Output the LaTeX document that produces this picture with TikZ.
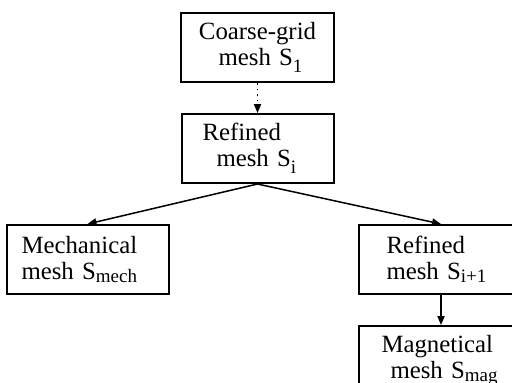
\documentclass[tikz,border=0pt]{standalone}
\usepackage{fontspec}
\setmainfont{Liberation Serif}
\usepackage{tikz}
\usetikzlibrary{arrows.meta, positioning}
\newcommand{\meshsub}[2][-1.5pt]{\raisebox{#1}{\fontsize{9.5}{10}\selectfont #2}}
\tikzset{
  meshbox/.style={rectangle, draw=black, line width=1pt, minimum height=34.5pt, inner ysep=0pt, font=\fontsize{12.4}{13}\selectfont},
  arrow/.style={-{Triangle[length=4.5pt, width=3.6pt]}, line width=0.75pt},
}
\begin{document}
\begin{tikzpicture}[
  dots/.style={arrow, dotted}]
\useasboundingbox (0,0) rectangle (256pt,-191pt);
\clip (0,0) rectangle (256pt,-191pt);
\node[meshbox, anchor=north west, text width=76.5pt, inner xsep=0pt, align=center] (coarse) at (90pt,-6pt) {Coarse-grid\\\hspace*{3pt}mesh S\meshsub[-3.5pt]{1}};
\node[meshbox, below=15pt of coarse, text width=55pt, inner xsep=10.5pt, align=left] (refined) {Refined\\\hspace*{7pt}mesh S\meshsub[-3.5pt]{i}};
\node[meshbox, below left=20pt and 5.5pt of refined, text width=66pt, inner xsep=7.5pt, align=left] (mech) {Mechanical\\mesh S\meshsub{mech}};
\node[meshbox, below right=20pt and 11.5pt of refined, text width=54.5pt, inner xsep=14pt, align=left] (refnext) {Refined\\mesh S\meshsub{i+1}};
\node[meshbox, below=15pt of refnext, text width=59.5pt, inner xsep=11.5pt, align=left] (magnet) {Magnetical\\\hspace*{4.5pt}mesh S\meshsub{mag}};

\draw[dots] (coarse) -- (refined);
\draw[arrow] (refined.south) -- (mech.north);
\draw[arrow] (refined.south) -- (refnext.north);
\draw[arrow] (refnext) -- (magnet);
\end{tikzpicture}
\end{document}
